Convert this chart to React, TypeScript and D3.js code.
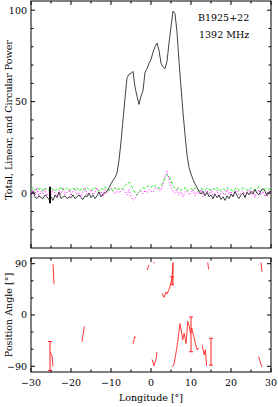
import React, {useEffect, useRef} from 'react';
import * as d3 from 'd3';

// total intensity, lon -30..30 step 0.5
const total = [
  -1, 1, -2, -3, -1.5, -2.5, -3, -1, -2, -3.5,
  -2, -4, -1, -2.5, 0.5, -3, -2, -1.5, -3, -2,
  -2.5, -1, -3, -2, -1, -2.5, -3.5, -1.5, -2, 0,
  -2.5, -1, -3, -1.5, 0.5, -2, -0.5, 0, 1, 3,
  5, 7, 8.5, 11, 18, 28, 40, 52, 63, 65,
  65.5, 66.5, 58, 53, 48.5, 53, 56, 66, 68, 71,
  73, 77, 80, 82, 78, 71, 69, 68, 72, 82,
  91, 99.5, 98, 88, 72, 58, 44, 32, 21, 14,
  10.5, 7.5, 5, 3, 1, -0.5, 1, -1.5, 0.5, -2,
  -1, -3, -0.5, -2.5, -1, -3.5, -2, -4, -1.5, -3,
  -0.5, -2, 1, -1.5, -3, -1, 0, -2.5, 0.5, -1,
  1, -0.5, 2, 0, -1, 1.5, 2.5, 1, -1.5, 0.5,
  1,
];

const linear = [
  2, 3, 1.5, 2.5, 2, 3, 1, 2.5, 2, 1.5,
  3, 2, 1, 2.5, 2, 3.5, 1.5, 2, 3, 2,
  1.5, 2.5, 2, 3, 1, 2, 2.5, 1.5, 3, 2,
  2.5, 1.5, 3, 2, 1, 2.5, 2, 3.5, 2, 1.5,
  2.5, 1, 3, 2, 2.5, 1.5, 3, 4, 5.5, 6,
  4.5, 2, 0.5, -1, 1, 2, 3, 2.5, 3.5, 4,
  3, 4.5, 4, 3, 2.5, 4, 6, 8, 10, 9,
  7, 4, 2.5, 2, 3, 1.5, 2.5, 3, 1, 2,
  2.5, 1.5, 3, 2, 1, 2.5, 2, 1.5, 3, 2,
  1.5, 2.5, 2, 3, 1, 2, 2.5, 1.5, 3, 2,
  2, 1, 2.5, 3, 1.5, 2, 3, 2.5, 1.5, 2,
  3, 2, 1.5, 2.5, 3.5, 2, 1, 2.5, 3, 2,
  2,
];

const circular = [
  0, 2, -1, 3, -2, 1, -0.5, 2.5, -1.5, 0.5,
  -1, 2, 0, -2, 1.5, -0.5, 3, -1, 0.5, 2,
  -1.5, 1, 2.5, -0.5, 0, -2, 1.5, 3, -1, 0.5,
  2, -1, 0.5, 3, -0.5, 1, -2, 2, 0, 1.5,
  3, 1, -0.5, 2, 0, 1.5, 2.5, 1, -1, 2,
  -2, -4, -3, -1, 0.5, 1, -0.5, 1.5, 0, 2,
  1, 0.5, 2.5, 3, 2, 1.5, 5, 9, 12, 8,
  4, 1, 0, 2.5, -1, 1, -2, 0.5, 1.5, -1,
  0, 2, -1.5, 1, -0.5, 2, -2, 0.5, 1.5, -1,
  2, -1, 0, 1.5, -2.5, 1, 0, -1, 2, -0.5,
  1, -2, 0.5, 2, -1, 0, 1.5, -1.5, 0.5, 2,
  -1, 1, -2.5, 0.5, 2, -1, 1, -2, 0, 1,
  0,
];

// one error bar on the profile
const totalErrLon = [-25.25];
const totalErrVal = [-1];
const totalErrSize = [4.5];

// position angle, null = gap
const paLon = [
  -24.5, -24.25, null,
  -25.2, -24.75, -24.5, null,
  -17.25, -17, -16.65, null,
  -4.5, -4.1, -3.7, null,
  -1.0, -0.5, null,
  0.6, 0.9, null,
  0.25, 0.75, 1.25, 1.5, null,
  2.75, 3.25, 3.75, 4.0, 4.5, 4.75, 5.0, 5.25, 5.5, 5.5, null,
  5.4, 5.8, 6.5, 6.85, 7.25, 7.7, 7.9, 8.3, 8.75, 9.2, 9.6, 9.85, 10.2, 10.7, 11.1, 11.5, 12.0, null,
  12.8, 13.3, 13.6, 13.9, null,
  14.2, 14.4, null,
  26.9, 27.3, 27.7, null,
  27.5, 27.75,
];
const paVal = [
  89, 54, null,
  -65, -72, -90, null,
  -47, -35, -20, null,
  -51, -38, -40, null,
  79, 88, null,
  92, 91, null,
  -78, -89, -78, -65, null,
  38, 31, 40, 37, 45, 50, 57, 65, 92, 53, null,
  -91, -85, -56, -38, -15, -32, -44, -32, -50, -11, -20, -32, -23, -38, -50, -61, -58, null,
  -53, -70, -61, -89, null,
  92, 80, null,
  -73, -82, -91, null,
  92, 76,
];

const paErrLon = [-25.25, 5.25, 10, 15];
const paErrVal = [-72, 60, -34, -64.5];
const paErrSize = [25.5, 7, 30.5, 23.5];

const xTicks = [-30, -20, -10, 0, 10, 20, 30];

const W = 278, H = 407;
const FONT = '"DejaVu Serif", serif';
const FS = 9.5;

export default function App() {
  const ref = useRef<SVGSVGElement>(null);

  useEffect(() => {
    const svg = d3.select(ref.current);
    svg.selectAll('*').remove();

    const left = 31, right = 271;
    const x = d3.scaleLinear().domain([-30, 30]).range([left, right]);
    const yTop = d3.scaleLinear().domain([-30, 105]).range([248, 1]);
    const yBot = d3.scaleLinear().domain([-100, 100]).range([372, 258]);
    const lons = total.map((_, i) => -30 + i * 0.5);

    const frame = (y: d3.ScaleLinear<number, number>, majors: number[], minors: number[], labels: boolean) => {
      const [y0, y1] = y.range();
      const g = svg.append('g');
      g.append('rect').attr('x', left).attr('y', y1).attr('width', right - left).attr('height', y0 - y1)
        .attr('fill', 'none').attr('stroke', '#000').attr('stroke-width', 1);
      const xMin = d3.range(-25, 30, 10);
      xTicks.forEach(t => {
        g.append('line').attr('x1', x(t)).attr('x2', x(t)).attr('y1', y0).attr('y2', y0 - 4).attr('stroke', '#000');
        g.append('line').attr('x1', x(t)).attr('x2', x(t)).attr('y1', y1).attr('y2', y1 + 4).attr('stroke', '#000');
      });
      xMin.forEach(t => {
        g.append('line').attr('x1', x(t)).attr('x2', x(t)).attr('y1', y0).attr('y2', y0 - 2.5).attr('stroke', '#000');
        g.append('line').attr('x1', x(t)).attr('x2', x(t)).attr('y1', y1).attr('y2', y1 + 2.5).attr('stroke', '#000');
      });
      majors.forEach(t => {
        g.append('line').attr('x1', left).attr('x2', left + 4).attr('y1', y(t)).attr('y2', y(t)).attr('stroke', '#000');
        g.append('line').attr('x1', right).attr('x2', right - 4).attr('y1', y(t)).attr('y2', y(t)).attr('stroke', '#000');
        g.append('text').attr('x', left - 4).attr('y', y(t) + 3.4).attr('text-anchor', 'end')
          .attr('font-family', FONT).attr('font-size', FS).text(String(t).replace('-', '\u2212'));
      });
      minors.forEach(t => {
        g.append('line').attr('x1', left).attr('x2', left + 2.5).attr('y1', y(t)).attr('y2', y(t)).attr('stroke', '#000');
        g.append('line').attr('x1', right).attr('x2', right - 2.5).attr('y1', y(t)).attr('y2', y(t)).attr('stroke', '#000');
      });
      if (labels) {
        xTicks.forEach(t => {
          g.append('text').attr('x', x(t)).attr('y', y0 + 14).attr('text-anchor', 'middle')
            .attr('font-family', FONT).attr('font-size', FS).text(String(t).replace('-', '\u2212'));
        });
      }
    };

    frame(yTop, [0, 50, 100], [-20, -10, 10, 20, 30, 40, 60, 70, 80, 90], false);
    frame(yBot, [-90, 0, 90], [-60, -30, 30, 60], true);

    const lineTop = d3.line<number>().x((_, i) => x(lons[i])).y(d => yTop(d));
    svg.append('path').attr('d', lineTop(circular)).attr('fill', 'none')
      .attr('stroke', '#ff00ff').attr('stroke-width', 1).attr('stroke-dasharray', '1,2');
    svg.append('path').attr('d', lineTop(linear)).attr('fill', 'none')
      .attr('stroke', '#22ee22').attr('stroke-width', 1).attr('stroke-dasharray', '3,2');
    svg.append('path').attr('d', lineTop(total)).attr('fill', 'none')
      .attr('stroke', '#111').attr('stroke-width', 0.8);

    totalErrLon.forEach((l, i) => {
      svg.append('line').attr('x1', x(l)).attr('x2', x(l))
        .attr('y1', yTop(totalErrVal[i] - totalErrSize[i])).attr('y2', yTop(totalErrVal[i] + totalErrSize[i]))
        .attr('stroke', '#000').attr('stroke-width', 2);
    });

    const paLine = d3.line<number | null>()
      .defined(d => d !== null)
      .x((_, i) => x(paLon[i] as number))
      .y(d => yBot(d as number));
    svg.append('path').attr('d', paLine(paVal)).attr('fill', 'none')
      .attr('stroke', '#ff2020').attr('stroke-width', 0.9);

    paErrLon.forEach((l, i) => {
      const lo = yBot(paErrVal[i] - paErrSize[i]);
      const hi = yBot(paErrVal[i] + paErrSize[i]);
      const g = svg.append('g').attr('stroke', '#ff2020').attr('stroke-width', 1);
      g.append('line').attr('x1', x(l)).attr('x2', x(l)).attr('y1', lo).attr('y2', hi);
      g.append('line').attr('x1', x(l) - 2).attr('x2', x(l) + 2).attr('y1', lo).attr('y2', lo);
      g.append('line').attr('x1', x(l) - 2).attr('x2', x(l) + 2).attr('y1', hi).attr('y2', hi);
    });

    svg.append('text').attr('x', 198).attr('y', 21).attr('font-family', FONT).attr('font-size', FS).text('B1925+22');
    svg.append('text').attr('x', 199).attr('y', 38).attr('font-family', FONT).attr('font-size', FS).text('1392 MHz');

    svg.append('text').attr('transform', `translate(12,120) rotate(-90)`).attr('text-anchor', 'middle')
      .attr('font-family', FONT).attr('font-size', FS).text('Total, Linear, and Circular Power');
    svg.append('text').attr('transform', `translate(12,${(258 + 372) / 2}) rotate(-90)`).attr('text-anchor', 'middle')
      .attr('font-family', FONT).attr('font-size', FS).text('Position Angle [\u00b0]');
    svg.append('text').attr('x', x(0)).attr('y', 401).attr('text-anchor', 'middle')
      .attr('font-family', FONT).attr('font-size', FS).text('Longitude [\u00b0]');
  }, []);

  return (
    <svg ref={ref} width={W} height={H}
      style={{position: 'absolute', left: 0, top: 0, background: '#fff'}} />
  );
}
